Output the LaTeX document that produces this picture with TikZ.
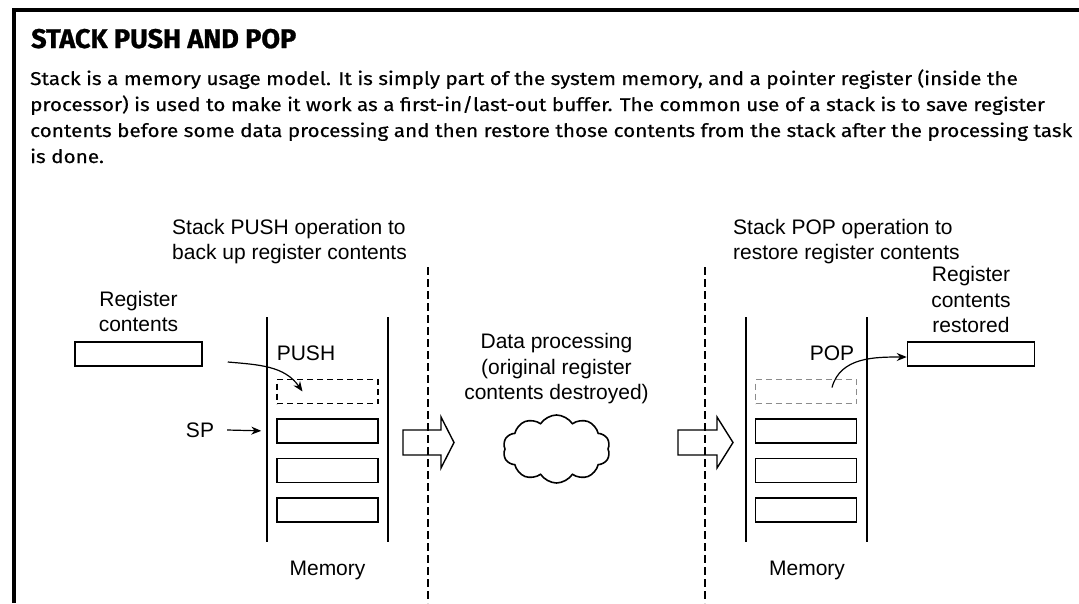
\documentclass[tikz,border=0pt]{standalone}
\usepackage{fontspec}
\setmainfont{Fira Sans}
\setsansfont{Liberation Sans}
\newfontfamily\headfont[BoldFeatures={FakeBold=1}]{Fira Sans}
\newfontfamily\bodyfont[FakeStretch=1.12,FakeBold=0.4]{Fira Sans}
\usetikzlibrary{arrows.meta,positioning,shapes.symbols}

\begin{document}
\begin{tikzpicture}[
  x = 1pt, y = -1pt,
  every node/.style = {inner sep=0pt},
  lbl/.style  = {font=\sffamily\fontsize{21}{25.5}\selectfont, align=center},
  body/.style = {font=\bodyfont\fontsize{18.5}{26}\selectfont, anchor=base west},
  cell/.style = {draw, line width=1.5pt, minimum width=101pt, minimum height=24pt},
  ghost/.style = {cell, line width=1.2pt, dash pattern=on 6pt off 4pt},
  reg/.style  = {draw, line width=1.5pt, minimum width=127pt, minimum height=24pt},
  wall/.style = {line width=1.4pt},
  sep/.style  = {line width=1.8pt, dash pattern=on 8pt off 4pt},
  arr/.style  = {-{Stealth[length=10pt,width=8pt]}, line width=1.2pt},
  bigarr/.style = {line width=1.4pt, line join=miter}
]
\useasboundingbox (0,0) rectangle (1079,603);

% frame and text
\draw[line width=4pt] (1079,10) -- (13.5,10) -- (13.5,603);
\node[anchor=base west, font=\headfont\bfseries\fontsize{27}{30}\selectfont]
  (title) at (31,48) {STACK PUSH AND POP};
\node[body] (line1) at (30,85)  {Stack is a memory usage model. It is simply part of the system memory, and a pointer register (inside the};
\node[body] (line2) at (30,111) {processor) is used to make it work as a first-in/last-out buffer. The common use of a stack is to save register};
\node[body] (line3) at (30,137) {contents before some data processing and then restore those contents from the stack after the processing task};
\node[body] (line4) at (30,163) {is done.};

% push side
\node[lbl, align=left, anchor=north west] (pushhead) at (172,219)
  {Stack PUSH operation to\\back up register contents};
\node[reg] (regin) at (138.5,354) {};
\node[lbl, above=9pt of regin] (reginlbl) {Register\\contents};

\draw[wall] (267,317) -- (267,542);
\draw[wall] (388,317) -- (388,542);
\node[ghost] (pushslot) at (327.5,391.5) {};
\node[cell, below=14pt of pushslot] (left1) {};
\node[cell, below=14pt of left1]    (left2) {};
\node[cell, below=14pt of left2]    (left3) {};
\node[lbl] (pushlbl) at (306,353) {PUSH};
\node[lbl] (leftmem) at (327.5,570) {Memory};
\node[lbl] (sp) at (200,430) {SP};

\draw[arr] ([xshift=13pt]sp.east) -- ([xshift=-15pt]left1.west);
\draw[arr] ([shift={(25,8)}]regin.east) to[out=-5,in=125] ([xshift=-25pt]pushslot.center);

\draw[sep] (428,267) -- (428,603);
\draw[bigarr] (403,430) -- ++(38,0) -- ++(0,-13) -- ++(13,25.5)
  -- ++(-13,25.5) -- ++(0,-13) -- ++(-38,0) -- cycle;

% processing
\node[cloud, draw, line width=1.6pt, cloud puffs=10, cloud puff arc=115,
  aspect=1.6, minimum width=107pt, minimum height=68pt] (proc) at (556.5,449) {};
\node[lbl, above=10pt of proc] (proclbl)
  {Data processing\\(original register\\contents destroyed)};

\draw[sep] (705,267) -- (705,603);
\draw[bigarr] (678,430) -- ++(39,0) -- ++(0,-13) -- ++(16,25.5)
  -- ++(-16,25.5) -- ++(0,-13) -- ++(-39,0) -- cycle;

% pop side
\node[lbl, align=left, anchor=north west] (pophead) at (733,219)
  {Stack POP operation to\\restore register contents};
\draw[wall] (746,317) -- (746,542);
\draw[wall] (867,317) -- (867,542);
\node[ghost, draw=black!45] (popslot) at (806,391.5) {};
\node[cell, below=14pt of popslot] (right1) {};
\node[cell, below=14pt of right1]  (right2) {};
\node[cell, below=14pt of right2]  (right3) {};
\node[lbl] (poplbl) at (832,353) {POP};
\node[lbl] (rightmem) at (807,570) {Memory};

\node[reg] (regout) at (971,354) {};
\node[lbl, above=8pt of regout] (regoutlbl) {Register\\contents\\restored};
\draw[arr] ([shift={(26,-4)}]popslot.center) to[out=75,in=180] ([yshift=-3pt]regout.west);
\end{tikzpicture}
\end{document}
